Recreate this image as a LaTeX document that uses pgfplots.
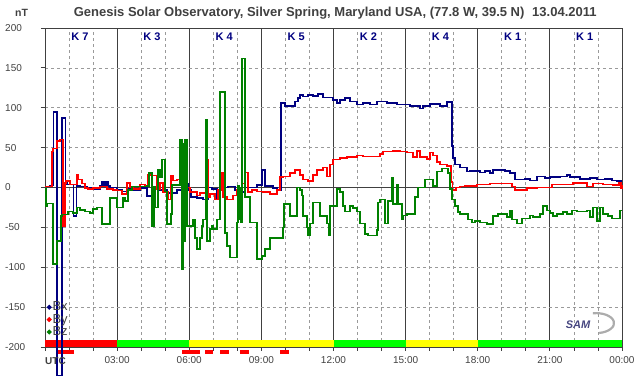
\documentclass[border=0pt]{standalone}
\usepackage{pgfplots}
\pgfplotsset{compat=1.18}
\usepackage{fontspec}
\setmainfont{Liberation Sans}
\definecolor{navy}{HTML}{000080}
\definecolor{bzgreen}{HTML}{008000}
\definecolor{axgray}{HTML}{404040}
\definecolor{gridgray}{HTML}{9A9A9A}
\definecolor{txtgray}{HTML}{404040}
\definecolor{kyellow}{HTML}{FFFF00}
\definecolor{kgreen}{HTML}{00FF00}
\definecolor{kred}{HTML}{FF0000}
\begin{document}
\begin{tikzpicture}
\begin{axis}[
  scale only axis, width=577pt, height=319pt,
  xmin=0, xmax=24, ymin=-200, ymax=200,
  clip=false,
  /pgf/number format/assume math mode=true,
  axis line style={draw=axgray, line width=0.8pt},
  xtick={0,3,...,24},
  xticklabels={,03:00,06:00,09:00,12:00,15:00,18:00,21:00,00:00},
  minor xtick={1,2,4,5,7,8,10,11,13,14,16,17,19,20,22,23},
  ytick={-200,-150,-100,-50,0,50,100,150,200},
  yticklabels={-200,-150,-100,-50,0,50,100,150,200},
  minor ytick={-150,-100,-50,50,100,150},
  xtick pos=bottom, ytick pos=left,
  tick align=outside,
  major tick length=4pt, minor tick length=4pt,
  every tick/.style={draw=axgray, line width=0.8pt},
  xmajorgrids, xminorgrids, yminorgrids,
  major grid style={solid, draw=axgray, line width=0.8pt},
  minor grid style={dashed, dash pattern=on 3pt off 3pt, draw=gridgray, line width=0.7pt},
  extra y ticks={0}, extra y tick labels={},
  extra y tick style={ymajorgrids=true, major tick length=0pt},
  ticklabel style={font=\fontsize{10}{12}\selectfont, text=txtgray},
  xticklabel style={yshift=-2pt},
  yticklabel style={anchor=west, inner sep=0pt, xshift=-36pt},
  legend style={at={(0.003,0.145)}, anchor=north west, draw=none, fill=none,
    inner sep=0pt, row sep=0pt, font=\fontsize{13}{14}\selectfont, text=txtgray,
    nodes={inner sep=1pt}},
  legend cell align=left,
  legend image code/.code={\fill[#1] (0pt,0pt) circle (1.5pt);},
]
% K-index strip
\addplot[fill=kred, draw=none, forget plot] coordinates {(0,-200)(0,-191)(3,-191)(3,-200)} -- cycle;
\addplot[fill=kgreen, draw=none, forget plot] coordinates {(3,-200)(3,-191)(6,-191)(6,-200)} -- cycle;
\addplot[fill=kyellow, draw=none, forget plot] coordinates {(6,-200)(6,-191)(12,-191)(12,-200)} -- cycle;
\addplot[fill=kgreen, draw=none, forget plot] coordinates {(12,-200)(12,-191)(15,-191)(15,-200)} -- cycle;
\addplot[fill=kyellow, draw=none, forget plot] coordinates {(15,-200)(15,-191)(18,-191)(18,-200)} -- cycle;
\addplot[fill=kgreen, draw=none, forget plot] coordinates {(18,-200)(18,-191)(24,-191)(24,-200)} -- cycle;
% red dashes below axis
\addplot[kred, line width=4pt, forget plot] coordinates {(0.46,-206.5)(1.21,-206.5)};
\addplot[kred, line width=4pt, forget plot] coordinates {(5.70,-206.5)(6.45,-206.5)};
\addplot[kred, line width=4pt, forget plot] coordinates {(6.66,-206.5)(7.00,-206.5)};
\addplot[kred, line width=4pt, forget plot] coordinates {(7.28,-206.5)(7.65,-206.5)};
\addplot[kred, line width=4pt, forget plot] coordinates {(8.11,-206.5)(8.48,-206.5)};
\addplot[kred, line width=4pt, forget plot] coordinates {(9.78,-206.5)(10.15,-206.5)};

% Bx
\addplot[navy, const plot, line width=1.6pt] coordinates {
(0.00,1)(0.21,2.5)(0.33,6)(0.35,95)(0.50,-236)(0.71,87)(0.85,6)(0.92,4)(1.19,-36)(1.31,2)
(1.46,1)(1.75,-1)(2.00,-2)(2.29,2)(2.37,7)(2.45,3)(2.54,7)(2.62,2)(2.70,0)(3.00,-3)
(3.20,-5)(3.41,-2)(3.54,-3)(3.95,-1)(4.24,-11)(4.45,-1)(4.78,-3)(5.07,-7)(5.49,-3)(5.70,25)
(5.87,5)(5.95,-3)(6.07,-12)(6.32,-13)(6.57,-15)(6.78,0)(6.95,-2)(7.15,-15)(7.28,0)(7.61,1)
(7.90,-4)(8.11,-6)(8.32,0)(8.82,3)(9.03,22)(9.15,2)(9.48,-1)(9.65,-4)(9.82,106)(9.98,102)
(10.40,108)(10.52,112)(10.61,116)(10.73,114)(10.94,116)(11.15,115)(11.36,117)(11.56,113)(11.98,110)(12.15,106)
(12.27,110)(12.48,112)(12.69,108)(12.98,104)(13.23,106)(13.52,104)(13.81,108)(14.23,106)(14.64,104)(15.18,102)
(15.60,99)(15.72,102)(16.01,105)(16.43,102)(16.72,107)(16.93,52)(16.97,37)(17.05,29)(17.26,25)(17.55,20)
(17.68,21)(18.09,19)(18.30,21)(18.51,18)(18.64,22)(19.13,21)(19.34,18)(19.55,10)(19.97,11)(20.17,9)
(20.47,14)(20.80,12)(21.01,13)(21.42,14)(21.71,16)(21.84,13)(22.25,11)(22.67,12)(22.96,10)(23.29,11)
(23.59,9)(23.79,8)(23.96,8)(24.00,8)};
\addlegendentry{Bx}
% By
\addplot[kred, const plot, line width=1.6pt] coordinates {
(0.00,1)(0.29,45)(0.33,49)(0.50,58)(0.62,60)(0.75,-48)(0.84,6)(0.87,8)(1.04,4)(1.33,16)
(1.37,10)(1.54,5)(1.66,-1)(1.79,-2)(2.00,-1)(2.29,1)(2.58,-2)(2.83,-3)(3.00,-4)(3.20,-8)
(3.41,6)(3.54,0)(3.66,-2)(3.95,4)(4.16,2)(4.28,16)(4.45,15)(4.66,-2)(4.78,6)(4.91,-6)
(5.12,-15)(5.24,15)(5.32,9)(5.49,10)(5.62,5)(5.74,2)(5.91,0)(6.03,-6)(6.32,-10)(6.45,-7)
(6.74,35)(6.78,-12)(6.86,-8)(7.07,-15)(7.20,-3)(7.36,19)(7.40,-12)(7.57,-15)(7.82,-10)(7.99,-3)
(8.19,5)(8.32,19)(8.44,-6)(8.61,-3)(8.82,-5)(9.07,-6)(9.36,-8)(9.65,-3)(9.78,13)(9.90,14)
(10.19,18)(10.40,22)(10.61,16)(10.73,10)(10.94,8)(11.15,16)(11.31,22)(11.56,25)(11.73,14)(11.86,29)
(11.98,35)(12.27,37)(12.56,38)(12.98,40)(13.23,39)(13.94,42)(14.06,45)(14.48,46)(14.77,45)(15.06,44)
(15.31,38)(15.47,46)(15.60,38)(15.89,36)(16.01,44)(16.14,40)(16.31,32)(16.43,29)(16.72,27)(16.89,7)
(16.95,-3)(17.09,0)(17.26,1)(17.47,2)(17.97,4)(18.51,5)(19.43,1)(19.55,-3)(20.05,-1)(20.47,0)
(21.09,4)(21.96,6)(22.55,1)(22.80,5)(23.21,4)(23.63,3)(23.88,6)(23.96,-1)(24.00,3)};
\addlegendentry{By}
% Bz
\addplot[bzgreen, const plot, line width=1.6pt] coordinates {
(0.00,-2)(0.04,-23)(0.08,-20)(0.33,-96)(0.50,-67)(0.67,-36)(0.71,-34)(0.96,-30)(1.16,-32)(1.33,-25)
(1.46,-28)(1.66,-30)(1.87,-32)(2.00,-27)(2.16,-25)(2.37,-46)(2.70,-13)(3.00,-25)(3.24,-13)(3.33,-17)
(3.45,-3)(3.62,1)(4.24,2)(4.33,18)(4.45,-48)(4.53,1)(4.58,-25)(4.70,22)(4.78,13)(4.87,35)
(4.99,-5)(5.07,-46)(5.24,-33)(5.28,3)(5.62,60)(5.70,-102)(5.74,55)(5.78,-67)(5.82,60)(5.91,-48)
(6.16,-40)(6.24,-63)(6.32,-77)(6.45,-63)(6.53,-48)(6.57,-40)(6.70,85)(6.74,-67)(6.86,-52)(6.95,-48)
(6.99,-52)(7.15,-40)(7.28,120)(7.49,-57)(7.57,-73)(7.70,-88)(7.99,-44)(8.03,2)(8.07,-40)(8.11,0)
(8.15,-44)(8.19,162)(8.32,-12)(8.53,-44)(8.82,-90)(9.03,-86)(9.15,-77)(9.36,-63)(9.90,-50)(9.94,-21)
(10.19,-36)(10.48,0)(10.61,-3)(10.69,-10)(10.73,-36)(10.90,-50)(10.94,-60)(11.02,-45)(11.15,-19)(11.44,-36)
(11.73,-45)(11.81,-60)(11.86,-23)(12.15,-2)(12.27,-6)(12.40,-23)(12.48,-30)(12.69,-23)(12.81,-26)(12.98,-30)
(13.10,-45)(13.31,-58)(13.44,-60)(13.81,-53)(13.85,-19)(13.94,-15)(14.14,-45)(14.27,-17)(14.43,12)(14.48,-21)
(14.64,4)(14.68,-21)(14.85,-40)(14.89,-35)(15.06,-33)(15.39,-12)(15.52,0)(15.81,10)(16.14,2)(16.31,20)
(16.51,24)(16.76,18)(16.85,-2)(16.93,-15)(17.05,-23)(17.18,-31)(17.26,-33)(17.60,-40)(17.76,-44)(17.89,-42)
(18.09,-44)(18.39,-46)(18.64,-36)(18.84,-33)(19.22,-37)(19.34,-29)(19.43,-40)(19.63,-45)(19.84,-39)(20.17,-35)
(20.30,-37)(20.59,-33)(20.71,-23)(20.88,-29)(21.01,-32)(21.13,-36)(21.30,-33)(21.55,-31)(21.71,-33)(21.92,-29)
(22.13,-30)(22.55,-29)(22.67,-37)(22.80,-25)(22.96,-42)(23.09,-25)(23.21,-33)(23.42,-36)(23.59,-39)(23.92,-29)
(24.00,-29)};
\addlegendentry{Bz}

% K labels
\foreach \k/\t in {1.45/K 7,4.45/K 3,7.45/K 4,10.45/K 5,13.45/K 2,16.45/K 4,19.45/K 1,22.45/K 1}{
  \edef\tmp{\noexpand\node[text=navy, font=\noexpand\bfseries\noexpand\fontsize{11}{13}\noexpand\selectfont] at (axis cs:\k,189) {\t};}
  \tmp
}
% title and units
\node[font=\bfseries\fontsize{13}{15}\selectfont, text=txtgray] at ([yshift=15pt]rel axis cs:0.503,1)
  {Genesis Solar Observatory, Silver Spring, Maryland USA, (77.8 W, 39.5 N)\hspace{0.6em}13.04.2011};
\node[font=\bfseries\fontsize{10.5}{12}\selectfont, text=txtgray] at ([xshift=-23.5pt,yshift=15.5pt]rel axis cs:0,1) {nT};
\node[font=\bfseries\fontsize{10}{12}\selectfont, text=txtgray, anchor=west, inner sep=0pt] at ([yshift=-14pt]axis cs:0,-200) {UTC};
% SAM logo
\node[font=\bfseries\itshape\fontsize{11}{12}\selectfont, text=navy!45!gray] at (axis cs:22.17,-172.5) {SAM};
\draw[gray!65, line width=2.2pt] ([shift={(-3.1pt,9.8pt)}]axis cs:22.92,-170) arc[start angle=100, end angle=-80, x radius=18pt, y radius=10pt];
\end{axis}
\pgfresetboundingbox
\useasboundingbox ([shift={(-45pt,28pt)}]current axis.north west) rectangle ([shift={(20pt,-29pt)}]current axis.south east);
\end{tikzpicture}
\end{document}
